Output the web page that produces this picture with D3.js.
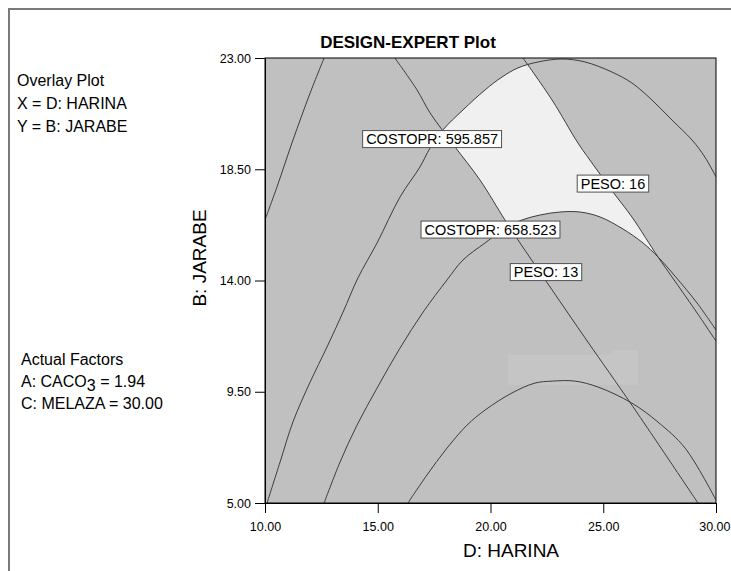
<!DOCTYPE html>
<html>
<head>
<meta charset="utf-8">
<script src="https://cdn.jsdelivr.net/npm/d3@7"></script>
<style>
  body { margin: 0; background: #fff; }
  svg text { font-family: "Liberation Sans", Arial, sans-serif; fill: #000; }
</style>
</head>
<body>
<svg id="chart" width="731" height="571"></svg>
<script>
// axis ticks
const xTicks = [10, 15, 20, 25, 30];
const yTicks = [5, 9.5, 14, 18.5, 23];

// contour lines, [HARINA, JARABE] pairs
const costoUpper = [[12.62, 23.0], [12.0, 21.58], [11.24, 19.68], [10.53, 17.78], [10.0, 16.45]];
const costo595 = [[10.09, 5.0], [10.67, 6.66], [11.24, 8.28], [12.0, 9.89], [12.75, 11.31], [13.46, 12.72],
  [14.12, 14.10], [14.97, 15.52], [15.99, 17.38], [16.87, 18.59], [17.32, 19.36], [17.89, 20.09],
  [18.78, 20.90], [19.76, 21.71], [20.51, 22.23], [21.22, 22.60], [22.11, 22.84], [23.17, 22.96],
  [24.19, 22.84], [25.39, 22.43], [26.27, 21.99], [27.16, 21.30], [28.05, 20.49], [28.94, 19.68],
  [29.51, 18.99], [30.0, 18.19]];
const costo658 = [[12.62, 5.0], [13.33, 6.66], [14.08, 8.15], [14.97, 9.65], [15.99, 11.27], [17.01, 12.72],
  [18.07, 14.02], [18.78, 14.83], [19.76, 15.52], [20.73, 16.16], [21.40, 16.45], [22.20, 16.65],
  [23.08, 16.77], [23.97, 16.77], [24.86, 16.57], [25.88, 16.08], [26.76, 15.52], [27.43, 14.95],
  [28.18, 14.18], [29.16, 13.09], [30.0, 12.0]];
const costoLow = [[16.34, 5.0], [17.18, 6.13], [18.07, 7.22], [18.96, 8.15], [19.76, 8.76], [20.95, 9.45],
  [21.97, 9.85], [22.73, 9.93], [23.75, 9.93], [24.77, 9.69], [26.27, 9.04], [27.43, 8.27],
  [28.63, 7.22], [30.0, 5.12]];
const peso13 = [[15.76, 23.0], [16.74, 21.71], [17.32, 20.78], [18.43, 19.40], [19.53, 18.07], [20.64, 16.45],
  [21.22, 15.64], [22.64, 13.74], [24.32, 11.51], [26.27, 8.96], [29.20, 5.0]];
const peso16 = [[21.44, 23.0], [22.73, 21.30], [23.88, 19.56], [24.63, 18.59], [25.43, 17.58], [26.27, 16.57],
  [27.43, 14.95], [28.05, 14.14], [29.07, 12.81], [30.0, 11.55]];

// faint patch in the background
const smudge = [[20.78, 10.99], [25.39, 10.99], [25.39, 11.19], [26.54, 11.19], [26.54, 9.77], [20.78, 9.77]];

// flag labels
const labelText = ["COSTOPR: 595.857", "PESO: 16", "COSTOPR: 658.523", "PESO: 13"];
const labelX = [17.41, 25.43, 20.0, 22.46];
const labelY = [19.72, 17.92, 16.06, 14.34];

const svg = d3.select("#chart");
const plotL = 265, plotR = 716, plotT = 58, plotB = 503;

const x = d3.scaleLinear().domain([10, 30]).range([plotL, plotR]);
const y = d3.scaleLinear().domain([5, 23]).range([plotB, plotT]);
const fmt = d3.format(".2f");

// outer frame
svg.append("path")
  .attr("d", `M9,571V9H731`)
  .attr("fill", "none").attr("stroke", "#7a7a7a").attr("stroke-width", 2);

const defs = svg.append("defs");
defs.append("clipPath").attr("id", "plotClip")
  .append("rect").attr("x", plotL).attr("y", plotT).attr("width", plotR - plotL).attr("height", plotB - plotT);

const line = d3.line().x(d => x(d[0])).y(d => y(d[1])).curve(d3.curveCatmullRom);

// closed shape: a curve plus some corner points
function region(pts, corners) {
  return line(pts) + corners.map(c => `L${x(c[0])},${y(c[1])}`).join("") + "Z";
}

defs.append("clipPath").attr("id", "under595").append("path").attr("d", region(costo595, [[30, 5]]));
defs.append("clipPath").attr("id", "above658").append("path").attr("d", region(costo658, [[30, 23], [10, 23], [10, 5]]));
defs.append("clipPath").attr("id", "right13").append("path").attr("d", region(peso13, [[30, 5], [30, 23]]));
defs.append("clipPath").attr("id", "left16").append("path").attr("d", region(peso16, [[30, 5], [10, 5], [10, 23]]));

// background
svg.append("rect")
  .attr("x", plotL).attr("y", plotT).attr("width", plotR - plotL).attr("height", plotB - plotT)
  .attr("fill", "#c0c0c0");

svg.append("path")
  .attr("d", d3.line().x(d => x(d[0])).y(d => y(d[1]))(smudge) + "Z")
  .attr("fill", "#c5c5c5");

// feasible window
svg.append("g").attr("clip-path", "url(#plotClip)")
  .append("g").attr("clip-path", "url(#under595)")
  .append("g").attr("clip-path", "url(#above658)")
  .append("g").attr("clip-path", "url(#right13)")
  .append("rect").attr("clip-path", "url(#left16)")
  .attr("x", plotL).attr("y", plotT).attr("width", plotR - plotL).attr("height", plotB - plotT)
  .attr("fill", "#f0f0f0");

// contour lines
const curves = [costoUpper, costo595, costo658, costoLow, peso13, peso16];
svg.append("g").attr("clip-path", "url(#plotClip)")
  .selectAll("path").data(curves).join("path")
  .attr("d", line)
  .attr("fill", "none")
  .attr("stroke", "#3c3c3c")
  .attr("stroke-width", 1);

// plot border
svg.append("rect")
  .attr("x", plotL).attr("y", plotT).attr("width", plotR - plotL).attr("height", plotB - plotT)
  .attr("fill", "none").attr("stroke", "#000").attr("stroke-width", 1);

// axes
const xAxis = svg.append("g").attr("transform", `translate(0,${plotB})`)
  .call(d3.axisBottom(x).tickValues(xTicks).tickFormat(fmt).tickSize(10).tickPadding(9).tickSizeOuter(0));
const yAxis = svg.append("g").attr("transform", `translate(${plotL},0)`)
  .call(d3.axisLeft(y).tickValues(yTicks).tickFormat(fmt).tickSize(10).tickPadding(4).tickSizeOuter(0));
[xAxis, yAxis].forEach(a => {
  a.select(".domain").attr("stroke", "#000");
  a.selectAll("text").attr("font-size", 12.5).attr("font-family", "Liberation Sans, Arial, sans-serif");
});
// last x label sits against the window edge
xAxis.selectAll(".tick:last-of-type text").attr("text-anchor", "end").attr("dx", "14");

// flag labels
const flags = svg.append("g").selectAll("g").data(labelText).join("g")
  .attr("transform", (d, i) => `translate(${x(labelX[i])},${y(labelY[i])})`);
flags.each(function (d) {
  const g = d3.select(this);
  const t = g.append("text").text(d).attr("font-size", 14.5)
    .attr("text-anchor", "middle").attr("dy", "0.36em");
  const b = t.node().getBBox();
  g.insert("rect", "text")
    .attr("x", b.x - 3.5).attr("y", -8.5).attr("width", b.width + 7).attr("height", 17)
    .attr("fill", "#fff").attr("stroke", "#505050").attr("stroke-width", 1);
});

// titles
svg.append("text").attr("x", 408).attr("y", 48).attr("text-anchor", "middle")
  .attr("font-size", 17).attr("font-weight", "bold").text("DESIGN-EXPERT Plot");

svg.append("text").attr("x", 511).attr("y", 557).attr("text-anchor", "middle")
  .attr("font-size", 19).text("D: HARINA");

svg.append("text").attr("transform", "translate(206,258) rotate(-90)").attr("text-anchor", "middle")
  .attr("font-size", 19).text("B: JARABE");

// side notes
const notes = svg.append("g").attr("font-size", 16);
notes.append("text").attr("x", 17).attr("y", 86).text("Overlay Plot");
notes.append("text").attr("x", 17).attr("y", 109).text("X = D: HARINA");
notes.append("text").attr("x", 17).attr("y", 132).text("Y = B: JARABE");
notes.append("text").attr("x", 21).attr("y", 365).text("Actual Factors");
const caco = notes.append("text").attr("x", 21).attr("y", 387);
caco.append("tspan").text("A: CACO");
caco.append("tspan").attr("dy", 4).text("3");
caco.append("tspan").attr("dy", -4).text(" = 1.94");
notes.append("text").attr("x", 21).attr("y", 409).text("C: MELAZA = 30.00");
</script>
</body>
</html>
